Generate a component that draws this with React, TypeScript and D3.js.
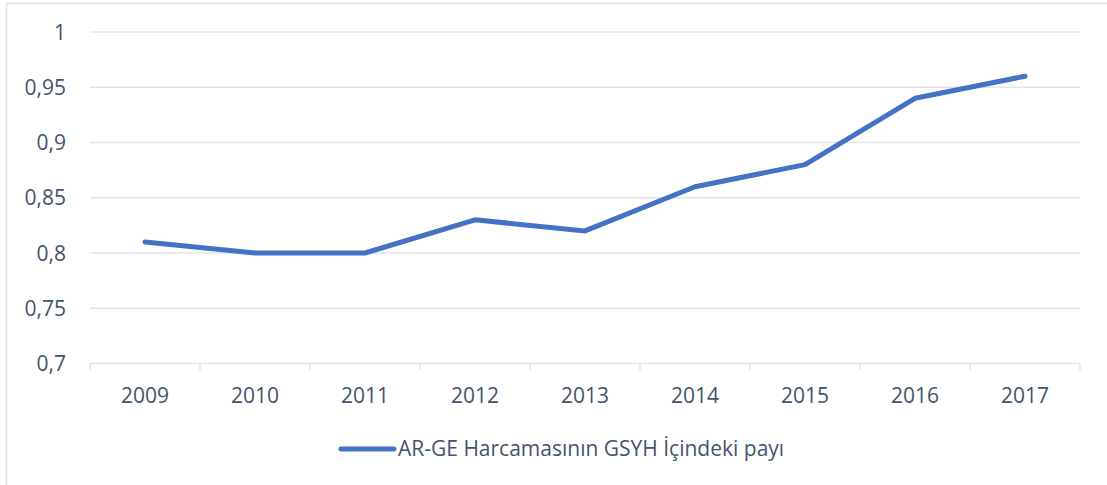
import React from "react";
import * as d3 from "d3";

const categories = ["2009", "2010", "2011", "2012", "2013", "2014", "2015", "2016", "2017"];
const values = [0.81, 0.8, 0.8, 0.83, 0.82, 0.86, 0.88, 0.94, 0.96];
const yTicks = [0.7, 0.75, 0.8, 0.85, 0.9, 0.95, 1];
const seriesName = "AR-GE Harcamasının GSYH İçindeki payı";

const W = 1107;
const H = 485;
const left = 90;
const right = 1080;
const top = 32;
const bottom = 363.5;
const textColor = "#44546a";
const gridColor = "#e0e4ea";
const font = "'Open Sans', sans-serif";
const fs = 21;

export default function App() {
  const x = d3.scaleBand<string>().domain(categories).range([left, right]).padding(0);
  const y = d3.scaleLinear().domain([0.7, 1]).range([bottom, top]);
  const line = d3
    .line<number>()
    .x((_, i) => (x(categories[i]) as number) + x.bandwidth() / 2)
    .y((d) => y(d));
  const fmt = (v: number) => String(+v.toFixed(2)).replace(".", ",");
  const tickXs = categories.map((c) => x(c) as number).concat([right]);

  return (
    <svg width={W} height={H} style={{ position: "absolute", left: 0, top: 0 }}>
      <rect x={0} y={0} width={W} height={H} fill="#fff" />
      <line x1={6.5} x2={6.5} y1={3.5} y2={H} stroke="#dde2e8" strokeWidth={1.5} />
      <line x1={6.5} x2={W} y1={3.5} y2={3.5} stroke="#dde2e8" strokeWidth={1.5} />
      {yTicks.map((t) => (
        <g key={t}>
          <line x1={left} x2={right} y1={y(t)} y2={y(t)} stroke={gridColor} strokeWidth={1.5} />
          <text
            x={66}
            y={y(t)}
            dy="0.36em"
            textAnchor="end"
            fontFamily={font}
            fontSize={fs}
            fill={textColor}
          >
            {fmt(t)}
          </text>
        </g>
      ))}
      {tickXs.map((tx, i) => (
        <line key={i} x1={tx} x2={tx} y1={bottom} y2={bottom + 7} stroke={gridColor} strokeWidth={1.5} />
      ))}
      {categories.map((c) => (
        <text
          key={c}
          x={(x(c) as number) + x.bandwidth() / 2}
          y={403}
          textAnchor="middle"
          fontFamily={font}
          fontSize={fs}
          fill={textColor}
        >
          {c}
        </text>
      ))}
      <path
        d={line(values) || ""}
        fill="none"
        stroke="#4472c4"
        strokeWidth={5}
        strokeLinecap="round"
        strokeLinejoin="round"
      />
      <line x1={341} x2={394} y1={449} y2={449} stroke="#4472c4" strokeWidth={5} strokeLinecap="round" />
      <text x={398} y={456} fontFamily={font} fontSize={fs} fill={textColor}>
        {seriesName}
      </text>
    </svg>
  );
}
